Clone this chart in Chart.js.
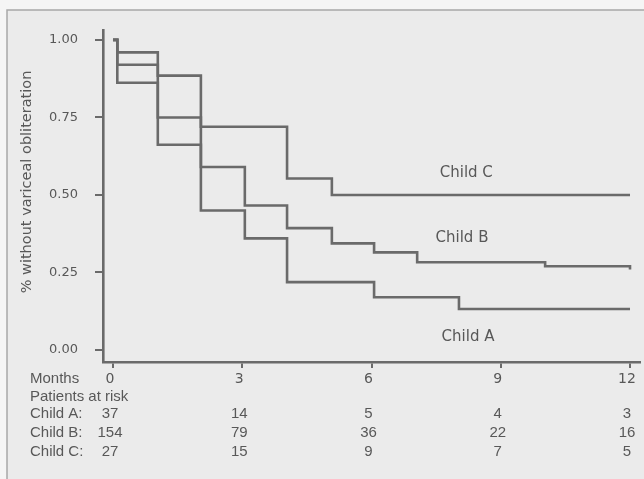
<!DOCTYPE html>
<html>
<head>
<meta charset="utf-8">
<script src="https://cdn.jsdelivr.net/npm/chart.js@4"></script>
<style>
  html, body { margin: 0; padding: 0; background: #f5f5f5; }
  #wrap { width: 644px; height: 479px; }
</style>
</head>
<body>
<div id="wrap"><canvas id="kmChart" width="644" height="479"></canvas></div>
<script>
// Kaplan-Meier data (months, proportion without variceal obliteration)
const timesA = [0, 0.1, 1.04, 2.04, 3.06, 4.04, 6.06, 8.03, 12];
const survA = [1, 0.862, 0.662, 0.45, 0.36, 0.219, 0.17, 0.132, 0.132];

const timesB = [0, 0.1, 1.04, 2.04, 3.06, 4.04, 5.08, 6.06, 7.06, 10.03, 12];
const survB = [1, 0.92, 0.75, 0.59, 0.466, 0.393, 0.344, 0.315, 0.283, 0.27, 0.26];

const timesC = [0, 0.1, 1.04, 2.04, 4.04, 5.08, 12];
const survC = [1, 0.96, 0.885, 0.72, 0.553, 0.5, 0.5];

// axis ticks
const monthTicks = [0, 3, 6, 9, 12];
const yTicks = [0, 0.25, 0.5, 0.75, 1];

// patients at risk table
const riskRows = ['Child A:', 'Child B:', 'Child C:'];
const riskA = [37, 14, 5, 4, 3];
const riskB = [154, 79, 36, 22, 16];
const riskC = [27, 15, 9, 7, 5];

const lineColor = '#6a6a6a';
const textColor = '#585858';

function toPoints(times, surv) {
    return times.map((t, i) => ({ x: t, y: surv[i] }));
}

function curve(label, times, surv) {
    return {
        label: label,
        data: toPoints(times, surv),
        stepped: 'before',
        borderColor: lineColor,
        borderWidth: 2.6,
        pointRadius: 0,
        fill: false
    };
}

// frame + background, y title, curve labels, risk table
const decorations = {
    id: 'decorations',
    beforeDraw(chart) {
        const ctx = chart.ctx;
        ctx.save();
        ctx.fillStyle = '#f5f5f5';
        ctx.fillRect(0, 0, chart.width, chart.height);
        ctx.fillStyle = '#ebebeb';
        ctx.fillRect(7, 10, chart.width, chart.height);
        ctx.strokeStyle = '#a8a8a8';
        ctx.lineWidth = 1.5;
        ctx.beginPath();
        ctx.moveTo(7, chart.height);
        ctx.lineTo(7, 10);
        ctx.lineTo(chart.width, 10);
        ctx.stroke();
        ctx.restore();
    },
    afterDraw(chart) {
        const ctx = chart.ctx;
        const x = chart.scales.x;
        const y = chart.scales.y;
        ctx.save();

        // y axis title
        ctx.fillStyle = textColor;
        ctx.font = '14.5px "DejaVu Sans"';
        ctx.textAlign = 'center';
        ctx.textBaseline = 'middle';
        ctx.translate(27, 182);
        ctx.rotate(-Math.PI / 2);
        ctx.fillText('% without variceal obliteration', 0, 0);
        ctx.setTransform(1, 0, 0, 1, 0, 0);

        // curve labels
        ctx.font = '15px "DejaVu Sans"';
        ctx.fillText('Child C', x.getPixelForValue(8.2), y.getPixelForValue(0.571));
        ctx.fillText('Child B', x.getPixelForValue(8.1), y.getPixelForValue(0.361));
        ctx.fillText('Child A', x.getPixelForValue(8.24), y.getPixelForValue(0.042));

        // risk table
        ctx.font = '15px "Liberation Sans"';
        ctx.textAlign = 'left';
        ctx.fillText('Months', 30, 379);
        ctx.fillText('Patients at risk', 30, 397);
        const rows = [riskA, riskB, riskC];
        const rowY = [414, 433, 452];
        rows.forEach((vals, r) => {
            ctx.textAlign = 'left';
            ctx.fillText(riskRows[r], 30, rowY[r]);
            ctx.textAlign = 'center';
            vals.forEach((v, i) => {
                ctx.fillText(String(v), x.getPixelForValue(monthTicks[i]) - 3, rowY[r]);
            });
        });
        ctx.restore();
    }
};

new Chart(document.getElementById('kmChart'), {
    type: 'line',
    data: {
        datasets: [
            curve('Child A', timesA, survA),
            curve('Child B', timesB, survB),
            curve('Child C', timesC, survC)
        ]
    },
    options: {
        responsive: false,
        animation: false,
        layout: { padding: { left: 0, right: 4, top: 30, bottom: 0 } },
        scales: {
            x: {
                type: 'linear',
                min: -0.232,
                max: 12.232,
                afterBuildTicks: s => { s.ticks = monthTicks.map(v => ({ value: v })); },
                afterFit: s => { s.height = 117; },
                ticks: {
                    color: textColor,
                    font: { family: 'DejaVu Sans', size: 14 },
                    padding: 3,
                    labelOffset: -3,
                    maxRotation: 0
                },
                grid: {
                    drawOnChartArea: false,
                    drawTicks: true,
                    tickLength: 6,
                    color: lineColor,
                    lineWidth: 2
                },
                border: { display: true, color: lineColor, width: 2.6 }
            },
            y: {
                min: -0.0387,
                max: 1.032,
                afterBuildTicks: s => { s.ticks = yTicks.map(v => ({ value: v })); },
                afterFit: s => { s.width = 103; },
                ticks: {
                    color: textColor,
                    font: { family: 'DejaVu Sans', size: 13 },
                    padding: 17,
                    callback: v => v.toFixed(2)
                },
                grid: {
                    drawOnChartArea: false,
                    drawTicks: true,
                    tickLength: 8,
                    color: lineColor,
                    lineWidth: 2
                },
                border: { display: true, color: lineColor, width: 2.6 }
            }
        },
        plugins: {
            legend: { display: false },
            tooltip: { enabled: false }
        }
    },
    plugins: [decorations]
});
</script>
</body>
</html>
